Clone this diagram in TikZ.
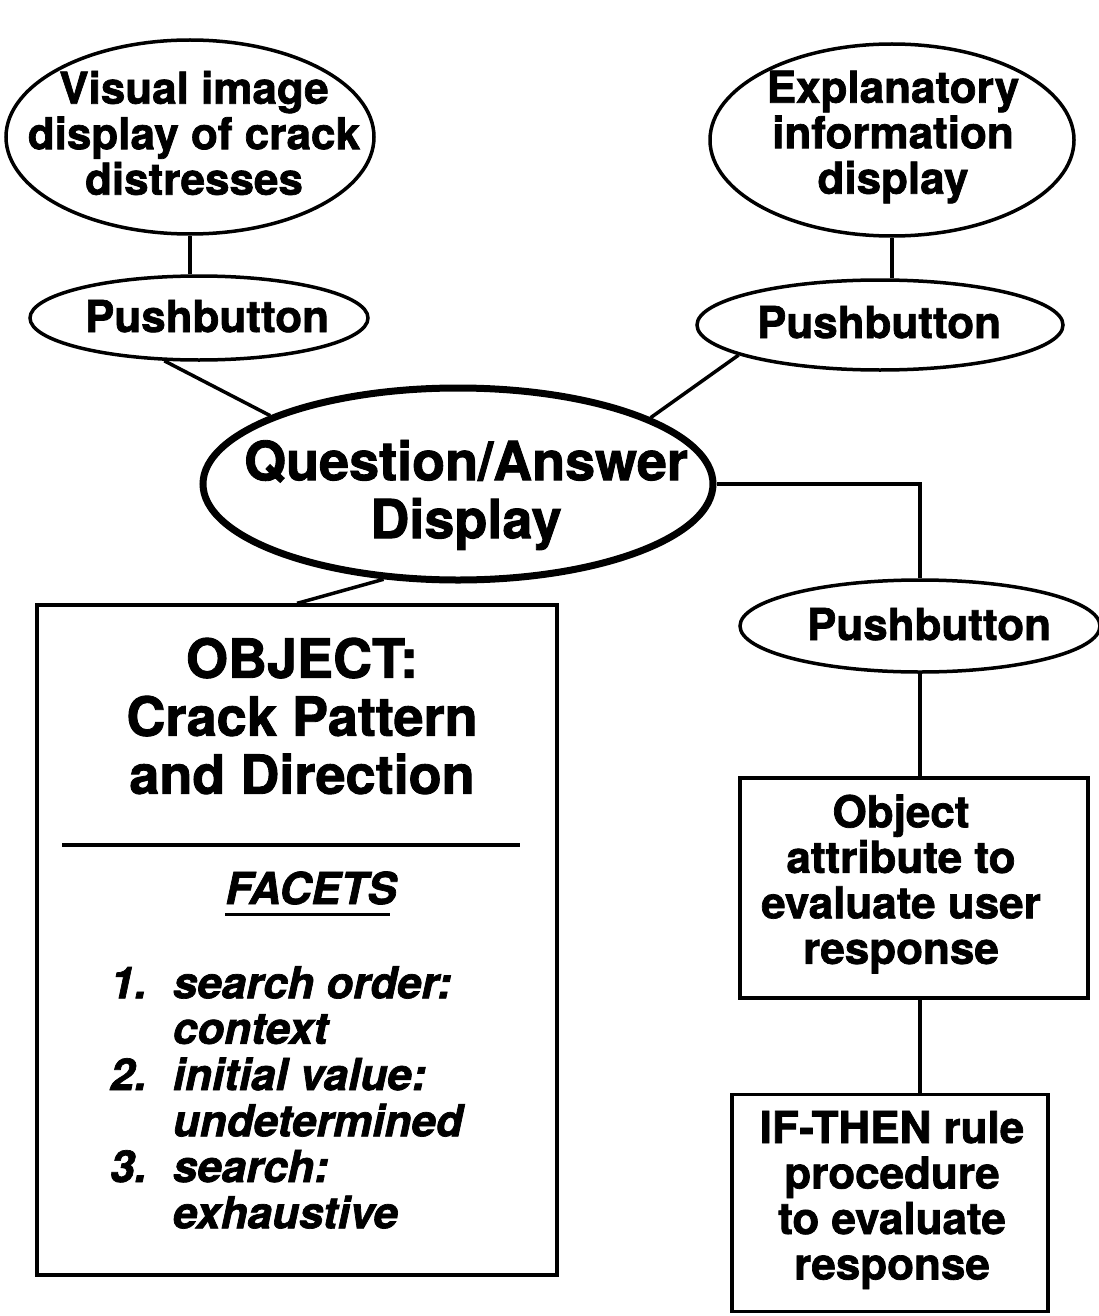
\documentclass[tikz,border=0pt]{standalone}
\usepackage{fontspec}
\setmainfont{TeX Gyre Heros}[BoldFeatures={FakeBold=1.6}, BoldItalicFeatures={FakeBold=1.6}]
\usetikzlibrary{shapes.geometric,calc}
\begin{document}
\begin{tikzpicture}[x=1pt,y=-1pt,
  oval/.style={draw, ellipse, line width=3.5pt, inner sep=0pt},
  thickoval/.style={oval, line width=7pt},
  panel/.style={draw, rectangle, line width=3.5pt, inner sep=0pt},
  link/.style={line width=3.5pt},
  txt/.style={align=center, inner sep=0pt, font=\fontsize{44}{45.5}\selectfont\bfseries},
  bigtxt/.style={align=center, inner sep=0pt, font=\fontsize{54}{58}\selectfont\bfseries},
]
\useasboundingbox (0,0) rectangle (1099,1316);

% top displays and their pushbuttons
\node[oval, minimum width=368pt, minimum height=194pt] (vis) at (190,137) {};
\node[txt] at (194,133) {Visual image\\display of crack\\distresses};
\node[oval, minimum width=364pt, minimum height=192pt] (expl) at (892,140) {};
\node[txt] at (893,137) {Explanatory\\information\\display};

\node[oval, minimum width=338pt, minimum height=84pt] (pb1) at (199,318) {};
\node[txt, anchor=base] at (207,332) {Pushbutton};
\node[oval, minimum width=366pt, minimum height=90pt] (pb2) at (880,325) {};
\node[txt, anchor=base] at (879,338) {Pushbutton};

% central question/answer display
\node[thickoval, minimum width=510pt, minimum height=192pt] (qa) at (458,484) {};
\node[bigtxt] at (466,495) {Question/Answer\\Display};

% right-hand chain
\node[oval, minimum width=360pt, minimum height=92pt] (pb3) at (920,626) {};
\node[txt, anchor=base] at (929,640) {Pushbutton};
\node[panel, minimum width=348pt, minimum height=220pt] (attr) at (914,888) {};
\node[txt] at (901,884) {Object\\attribute to\\evaluate user\\response};
\node[panel, minimum width=316pt, minimum height=217pt] (rule) at (890,1203) {};
\node[txt] at (892,1200) {IF-THEN rule\\procedure\\to evaluate\\response};

% object frame with facets
\node[panel, minimum width=520pt, minimum height=670pt] (obj) at (297,940) {};
\node[bigtxt] at (302,716) {OBJECT:\\Crack Pattern\\and Direction};
\draw[link] (62,845) -- (520,845);
\node[txt, font=\fontsize{44}{45.5}\selectfont\bfseries\itshape, anchor=base] (fac) at (311,904) {FACETS};
\draw[line width=3pt] (fac.south west) ++(0,10) -- ++(165,0);
\node[txt, font=\fontsize{44}{45.5}\selectfont\bfseries\itshape, anchor=north west, align=left] (list) at (110,966)
  {\begin{tabular}{@{}l@{\hspace{26pt}}l@{}}
    1. & search order:\\
       & context\\
    2. & initial value:\\
       & undetermined\\
    3. & search:\\
       & exhaustive
   \end{tabular}};

% connectors
\draw[link] (vis.south) -- (vis.south |- pb1.north);
\draw[link] (expl.south) -- (expl.south |- pb2.north);
\draw[link] (pb1.231) -- (qa.160);
\draw[link] (pb2.192) -- (qa.19);
\draw[link] (qa.east) -| (pb3.north);
\draw[link] (pb3.south) -- (pb3.south |- attr.north);
\draw[link] (pb3.south |- attr.south) -- (pb3.south |- rule.north);
\coordinate (kink) at (302,602);
\draw[link] (qa.232) -- (kink) -- (obj.north);
\end{tikzpicture}
\end{document}
